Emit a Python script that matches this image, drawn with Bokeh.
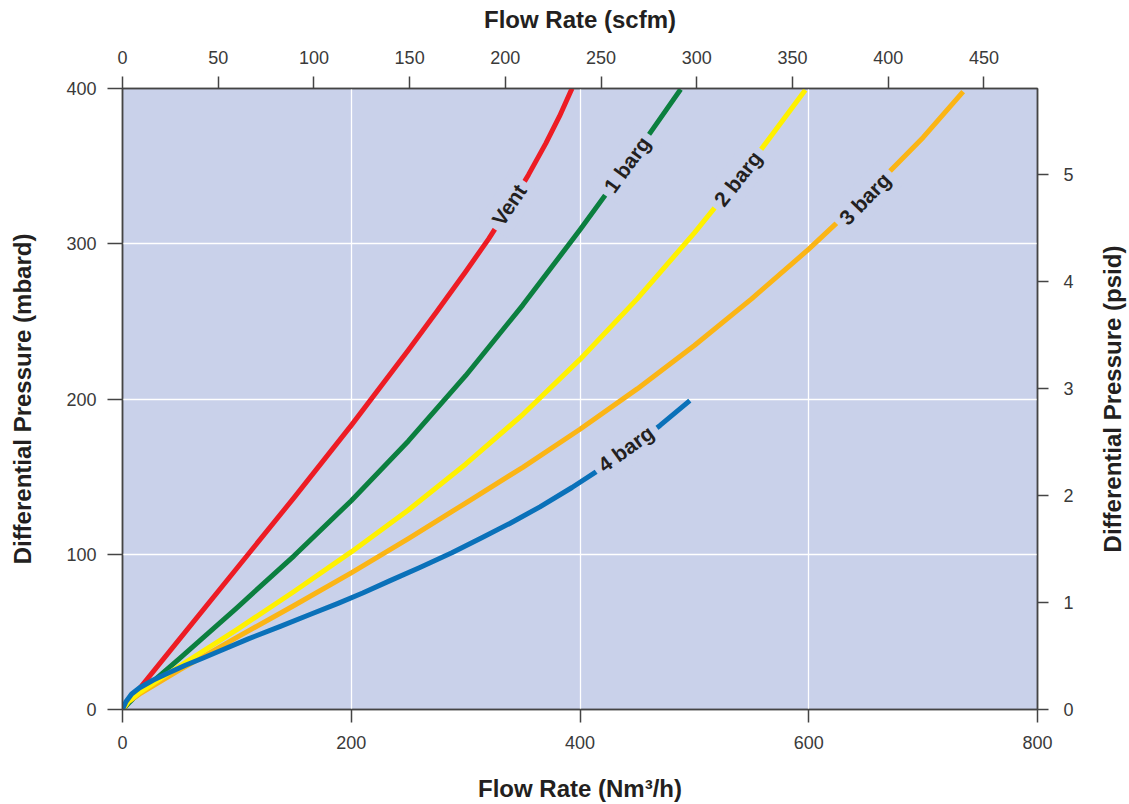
from bokeh.plotting import figure
from bokeh.layouts import row
from bokeh.models import Range1d, LinearAxis, SingleIntervalTicker, FixedTicker, Label
from bokeh.embed import file_html
from bokeh.resources import INLINE

# ---- data (flow in Nm3/h, differential pressure in mbard) ----
vent_flow = [0, 50, 100, 150, 200, 250, 275, 300, 320, 340, 355, 370, 382, 393]
vent_dp = [0, 45.5, 91, 136.5, 183, 231.5, 256.5, 282, 303, 326, 344.5, 364.5, 382, 400]

barg1_flow = [0, 10, 50, 100, 150, 200, 250, 300, 350, 400, 450, 488]
barg1_dp = [0, 7.5, 33, 65.5, 99, 134.5, 173, 215, 260.5, 309, 359.5, 399.5]

barg2_flow = [0, 5, 15, 50, 100, 150, 200, 250, 300, 350, 400, 450, 500, 550, 597]
barg2_dp = [0, 5, 11, 28, 51.5, 76, 101.5, 128.5, 158, 190, 225.5, 264.5, 307, 352.5, 399]

barg3_flow = [0, 5, 15, 50, 100, 150, 200, 250, 300, 350, 400, 450, 500, 550, 600, 650, 700, 735]
barg3_dp = [0, 5, 10, 25.5, 46.5, 67, 88, 110, 133, 156, 180.5, 206.5, 234.5, 264.5, 296.5, 331, 368.5, 398]

barg4_flow = [0, 3, 8, 15, 27, 40, 55, 70, 86, 110, 138, 165, 189, 210, 234, 260, 288,
              315, 339, 365, 393, 420, 444, 470, 496]
barg4_dp = [0, 5, 10, 14, 19, 23.5, 28.5, 33, 38, 45.5, 53.5, 61.5, 68.5, 75, 83, 91.5, 101,
            111, 120, 130.5, 143, 156, 168.5, 183, 199]

series_names = ["Vent", "1 barg", "2 barg", "3 barg", "4 barg"]
series_colors = ["#ED1C24", "#0B7F3F", "#FFF100", "#FBB515", "#0A71B9"]

# in-line label anchor positions (data units) and text angles (deg)
label_x = [338, 441, 538, 649, 440]
label_y = [325, 351, 342, 329, 168]
label_angle = [56, 54, 52, 46, 36]

# axis extents
flow_max = 800
dp_max = 400
scfm_max = 478
psid_max = 400 / 68.948

BG = "#C9D1EA"
TXT = "#231F20"
TICK_TXT = "#3a3a3a"
FONT = "Liberation Sans"

p = figure(width=1077, height=804,
           x_range=Range1d(0, flow_max), y_range=Range1d(0, dp_max),
           output_backend="svg", toolbar_location=None,
           min_border_left=122, min_border_right=40,
           min_border_top=88, min_border_bottom=93)

p.background_fill_color = BG
p.border_fill_color = "white"
p.outline_line_color = "#555555"
p.outline_line_width = 1.5

p.extra_x_ranges = {"scfm": Range1d(0, scfm_max)}
p.extra_y_ranges = {"psid": Range1d(0, psid_max)}

x_ticker = SingleIntervalTicker(interval=200)
y_ticker = SingleIntervalTicker(interval=100)


def style_axis(ax, tick_out, label_standoff, title_standoff):
    ax.axis_line_color = "#444444"
    ax.axis_line_width = 1.5
    ax.major_tick_line_color = "#444444"
    ax.major_tick_line_width = 1.5
    ax.major_tick_out = tick_out
    ax.major_tick_in = 0
    ax.minor_tick_line_color = None
    ax.major_label_text_font = FONT
    ax.major_label_text_font_size = "18px"
    ax.major_label_text_color = TICK_TXT
    ax.major_label_standoff = label_standoff
    ax.axis_label_text_font = FONT
    ax.axis_label_text_font_style = "bold"
    ax.axis_label_text_font_size = "24px"
    ax.axis_label_text_color = TXT
    ax.axis_label_standoff = title_standoff


bottom = p.below[0]
bottom.ticker = x_ticker
bottom.axis_label = "Flow Rate (Nm³/h)"
style_axis(bottom, 13, 13, 23)

left = p.left[0]
left.ticker = y_ticker
left.axis_label = "Differential Pressure (mbard)"
style_axis(left, 15, 11, 27)

top = LinearAxis(x_range_name="scfm", ticker=SingleIntervalTicker(interval=50),
                 axis_label="Flow Rate (scfm)")
style_axis(top, 12, 13, 15)
p.add_layout(top, "above")

right = LinearAxis(y_range_name="psid", ticker=SingleIntervalTicker(interval=1))
style_axis(right, 11, 15, 22)
p.add_layout(right, "right")

p.xgrid.ticker = x_ticker
p.ygrid.ticker = y_ticker
p.grid.grid_line_color = "white"
p.grid.grid_line_width = 1.3

flows = [vent_flow, barg1_flow, barg2_flow, barg3_flow, barg4_flow]
dps = [vent_dp, barg1_dp, barg2_dp, barg3_dp, barg4_dp]
order = [0, 1, 3, 2, 4]
for i in order:
    p.line(flows[i], dps[i], line_color=series_colors[i], line_width=5,
           line_join="round")

for name, lx, ly, ang in zip(series_names, label_x, label_y, label_angle):
    p.add_layout(Label(x=lx, y=ly, text=name, angle=ang, angle_units="deg",
                       text_align="center", text_baseline="middle",
                       text_font=FONT, text_font_style="bold",
                       text_font_size="21px", text_color=TXT,
                       background_fill_color=BG, background_fill_alpha=1.0,
                       padding=6))

# narrow companion panel that carries the right-hand (psid) axis title,
# reading bottom-to-top like the left one
q = figure(width=52, height=804, x_range=Range1d(0, 1), y_range=Range1d(0, dp_max),
           output_backend="svg", toolbar_location=None,
           min_border_left=48, min_border_right=0,
           min_border_top=88, min_border_bottom=93)
q.xaxis.visible = False
q.grid.visible = False
q.outline_line_color = None
q.background_fill_color = "white"
q.border_fill_color = "white"
qa = q.yaxis[0]
qa.ticker = FixedTicker(ticks=[])
qa.axis_line_color = None
qa.major_tick_line_color = None
qa.minor_tick_line_color = None
qa.major_tick_out = 0
qa.major_tick_in = 0
qa.major_label_standoff = 0
qa.axis_label = "Differential Pressure (psid)"
qa.axis_label_text_font = FONT
qa.axis_label_text_font_style = "bold"
qa.axis_label_text_font_size = "24px"
qa.axis_label_text_color = TXT
qa.axis_label_standoff = 0

layout = row(p, q)
open("out.html", "w").write(file_html(layout, INLINE))
